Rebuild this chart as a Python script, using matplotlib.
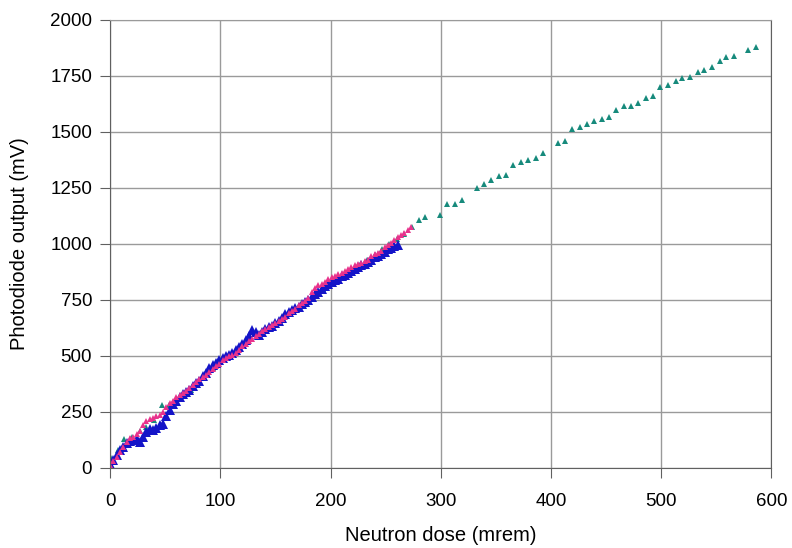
import matplotlib
matplotlib.use("Agg")
import matplotlib.pyplot as plt

plt.rcParams['font.family'] = ['Liberation Sans', 'DejaVu Sans']

# teal series (dose in mrem, output in mV)
teal_x = [0, 7, 13, 20, 27, 33, 40, 47, 53, 60, 67, 73, 80, 87, 93, 100, 107, 113,
          120, 127, 133, 140, 147, 153, 160, 167, 173, 180, 187, 193, 200, 207, 213,
          220, 227, 233, 240, 247, 253, 260, 267, 274, 280, 286, 299, 306, 313, 319,
          333, 339, 346, 353, 359, 366, 373, 379, 386, 393, 406, 413, 419, 426, 433,
          439, 446, 453, 459, 466, 473, 479, 486, 493, 499, 506, 513, 519, 526, 533,
          539, 546, 553, 559, 566, 579, 586]
teal_y = [55, 82, 128, 140, 165, 185, 215, 280, 282, 310, 335, 350, 385, 420, 445,
          475, 500, 515, 545, 575, 590, 615, 635, 655, 680, 705, 730, 750, 780, 800,
          825, 845, 865, 885, 905, 930, 950, 975, 1000, 1020, 1045, 1075, 1105, 1120,
          1130, 1179, 1179, 1194, 1251, 1269, 1284, 1303, 1309, 1351, 1366, 1374,
          1384, 1406, 1451, 1459, 1511, 1523, 1535, 1549, 1559, 1568, 1598, 1613,
          1613, 1628, 1650, 1661, 1698, 1710, 1725, 1740, 1746, 1767, 1774, 1789,
          1818, 1835, 1840, 1867, 1877]

# magenta series
pink_x = [0, 3, 6, 9, 12, 15, 18, 21, 24, 27, 30, 33, 36, 39, 42, 45, 48, 51, 54, 57,
          60, 63, 66, 69, 72, 75, 78, 81, 84, 87, 90, 93, 96, 99, 102, 105, 108, 111,
          114, 117, 120, 123, 126, 129, 132, 135, 138, 141, 144, 147, 150, 153, 156,
          159, 162, 165, 168, 171, 174, 177, 180, 183, 186, 189, 192, 195, 198, 201,
          204, 207, 210, 213, 216, 219, 222, 225, 228, 231, 234, 237, 240, 243, 246,
          249, 252, 255, 258, 261, 264, 267, 270, 273]
pink_y = [15, 30, 50, 70, 95, 115, 135, 140, 150, 165, 190, 210, 220, 225, 230, 235,
          250, 270, 290, 300, 315, 325, 335, 345, 355, 370, 385, 395, 405, 415, 430,
          440, 455, 465, 480, 490, 500, 505, 515, 525, 545, 555, 565, 575, 590, 600,
          610, 620, 630, 640, 645, 655, 665, 675, 690, 700, 710, 725, 735, 745, 760,
          785, 805, 815, 820, 830, 845, 850, 855, 865, 870, 880, 890, 895, 905, 910,
          915, 925, 930, 945, 955, 960, 970, 985, 995, 1005, 1015, 1030, 1040, 1050,
          1060, 1075]

# blue series
blue_x = [0, 3, 6, 9, 12, 15, 18, 21, 24, 27, 30, 33, 36, 39, 42, 45, 48, 51, 54, 57,
          60, 63, 66, 69, 72, 75, 78, 81, 84, 87, 90, 93, 96, 99, 102, 105, 108, 111,
          114, 117, 120, 123, 126, 129, 132, 135, 138, 141, 144, 147, 150, 153, 156,
          159, 162, 165, 168, 171, 174, 177, 180, 183, 186, 189, 192, 195, 198, 201,
          204, 207, 210, 213, 216, 219, 222, 225, 228, 231, 234, 237, 240, 243, 246,
          249, 252, 255, 258, 261]
blue_y = [20, 35, 60, 80, 95, 110, 120, 125, 130, 118, 140, 160, 175, 170, 180, 190,
          195, 230, 260, 285, 300, 315, 330, 340, 350, 365, 380, 390, 410, 425, 445,
          460, 470, 480, 490, 500, 505, 515, 525, 540, 555, 570, 590, 615, 605, 595,
          605, 620, 630, 635, 645, 655, 670, 685, 695, 705, 715, 720, 730, 740, 750,
          765, 775, 785, 800, 810, 820, 830, 840, 845, 855, 860, 870, 880, 890, 895,
          905, 910, 920, 930, 940, 945, 955, 965, 975, 980, 990, 995]

fig = plt.figure(figsize=(7.92, 5.48), dpi=100)
ax = fig.add_axes([0.139, 0.146, 0.835, 0.818])

ax.plot(teal_x, teal_y, '^', color='#178a7c', markersize=5, markeredgewidth=0, linestyle='none')
ax.plot(blue_x, blue_y, '^', color='#1414c8', markersize=6.5, markeredgewidth=0, linestyle='none')
ax.plot(pink_x, pink_y, '^', color='#e8328c', markersize=4.5, markeredgewidth=0, linestyle='none')

ax.set_xlim(0, 600)
ax.set_ylim(0, 2000)
ax.set_xticks(range(0, 601, 100))
ax.set_yticks(range(0, 2001, 250))
ax.grid(True, color='#9a9a9a', linewidth=1)
ax.set_axisbelow(True)
for s in ax.spines.values():
    s.set_color('#606060')
ax.spines['top'].set_color('#9a9a9a')
ax.tick_params(direction='out', length=7, color='#606060', labelsize=13.5)
ax.tick_params(axis='x', pad=11)
ax.tick_params(axis='y', pad=6)

ax.set_xlabel("Neutron dose (mrem)", fontsize=14.5)
ax.set_ylabel("Photodiode output (mV)", fontsize=14.5)
ax.xaxis.set_label_coords(0.5, -0.13)
ax.yaxis.set_label_coords(-0.122, 0.5)

fig.savefig("out.png", dpi=100)
